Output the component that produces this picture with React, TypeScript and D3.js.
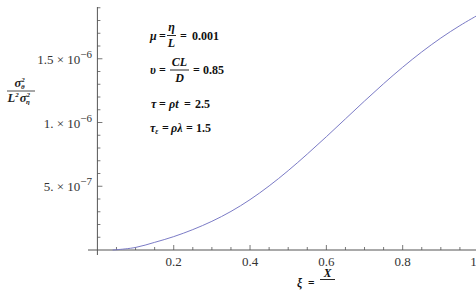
import React from "react";
import * as d3 from "d3";

const XI = [0.04, 0.05, 0.1, 0.15, 0.2, 0.25, 0.3, 0.35, 0.4, 0.45, 0.5, 0.55, 0.6, 0.65, 0.7, 0.75, 0.8, 0.85, 0.9, 0.95, 1.0];
const VARIANCE = [0, 0.2e-8, 2.0e-8, 6.0e-8, 1.05e-7, 1.6e-7, 2.25e-7, 3.025e-7, 3.95e-7, 5.025e-7, 6.225e-7, 7.525e-7, 8.885e-7, 1.0285e-6, 1.1685e-6, 1.3045e-6, 1.4335e-6, 1.5535e-6, 1.6625e-6, 1.76e-6, 1.8475e-6];

const X_TICKS = [0.2, 0.4, 0.6, 0.8, 1];
const X_TICK_LABELS = ["0.2", "0.4", "0.6", "0.8", "1"];
const Y_TICKS = [5e-7, 1e-6, 1.5e-6];
const Y_TICK_MANTISSA = ["5.", "1.", "1.5"];
const Y_TICK_EXP = ["\u22127", "\u22126", "\u22126"];

const W = 476;
const H = 292;
const FONT = "'Liberation Serif', 'DejaVu Serif', serif";

export default function App() {
  const x = d3.scaleLinear().domain([0, 1]).range([97.4, 479]);
  const y = d3.scaleLinear().domain([0, 1.9e-6]).range([250, 7.75]);
  const x0 = x(0);
  const y0 = y(0);

  const line = d3
    .line<number>()
    .x((_, i) => x(XI[i]))
    .y((d) => y(d))
    .curve(d3.curveCatmullRom.alpha(0.5));

  const xMinor = d3.range(1, 21).map((k) => k * 0.05);
  const yMinor = d3.range(1, 20).map((k) => k * 1e-7);
  const axisColor = "#555";
  const textColor = "#333";
  const ink = "#111";

  return (
    <svg
      width={W}
      height={H}
      style={{ position: "fixed", left: 0, top: 0, background: "#fff" }}
      fontFamily={FONT}
    >
      <rect x={0} y={0} width={W} height={H} fill="#fff" />
      {/* axes */}
      <line x1={88} x2={W} y1={y0} y2={y0} stroke={axisColor} strokeWidth={1} />
      <line x1={x0} x2={x0} y1={7} y2={255} stroke={axisColor} strokeWidth={1} />
      {/* x ticks */}
      {xMinor.map((v, i) => {
        const major = X_TICKS.some((t) => Math.abs(t - v) < 1e-9);
        return (
          <line
            key={"xm" + i}
            x1={x(v)}
            x2={x(v)}
            y1={y0}
            y2={y0 - (major ? 5 : 3)}
            stroke={axisColor}
            strokeWidth={0.8}
          />
        );
      })}
      {X_TICKS.map((t, i) => (
        <text
          key={"xl" + i}
          x={Math.min(x(t), 473.5)}
          y={265.5}
          fontSize={13}
          textAnchor="middle"
          fill={textColor}
        >
          {X_TICK_LABELS[i]}
        </text>
      ))}
      {/* y ticks */}
      {yMinor.map((v, i) => {
        const major = Y_TICKS.some((t) => Math.abs(t - v) < 1e-12);
        return (
          <line
            key={"ym" + i}
            x1={x0}
            x2={x0 + (major ? 5 : 3)}
            y1={y(v)}
            y2={y(v)}
            stroke={axisColor}
            strokeWidth={0.8}
          />
        );
      })}
      {Y_TICKS.map((t, i) => (
        <text key={"yl" + i} x={92} y={y(t) + 5} fontSize={13} textAnchor="end" fill={textColor}>
          {Y_TICK_MANTISSA[i] + " \u00d7 10"}
          <tspan dy={-6} fontSize={11}>
            {Y_TICK_EXP[i]}
          </tspan>
        </text>
      ))}
      {/* curve */}
      <path d={line(VARIANCE) || ""} fill="none" stroke="#7b7bc6" strokeWidth={1} />

      {/* y label fraction */}
      <g fontWeight="bold" fontStyle="italic" fill="#222">
        <text x={14.5} y={87} fontSize={12.5}>
          σ
          <tspan fontSize={7} dy={-5}>2</tspan>
          <tspan fontSize={7} dx={-3.8} dy={7}>θ</tspan>
        </text>
        <line x1={7} x2={35} y1={91} y2={91} stroke="#222" strokeWidth={0.8} />
        <text x={7.5} y={102} fontSize={12.5}>
          L
          <tspan fontSize={7} dy={-5}>2</tspan>
          <tspan dy={5} dx={1}>σ</tspan>
          <tspan fontSize={7} dy={-5}>2</tspan>
          <tspan fontSize={7} dx={-3.8} dy={7}>η</tspan>
        </text>
      </g>

      {/* annotations */}
      <g fontWeight="bold" fill={ink} fontSize={12}>
        {/* line 1 */}
        <text x={150} y={39.5} fontStyle="italic">μ</text>
        <text x={159} y={39.5}>=</text>
        <text x={171.5} y={31} textAnchor="middle" fontStyle="italic">η</text>
        <line x1={167} x2={176} y1={35.5} y2={35.5} stroke={ink} strokeWidth={0.9} />
        <text x={171.5} y={47} textAnchor="middle" fontStyle="italic">L</text>
        <text x={180} y={39.5}>=</text>
        <text x={192} y={39.5}>0.001</text>

        {/* line 2 */}
        <text x={150} y={74} fontStyle="italic">υ</text>
        <text x={159} y={74}>=</text>
        <text x={179.5} y={66} textAnchor="middle" fontStyle="italic">CL</text>
        <line x1={170} x2={189} y1={70} y2={70} stroke={ink} strokeWidth={0.9} />
        <text x={179.5} y={82} textAnchor="middle" fontStyle="italic">D</text>
        <text x={193} y={74}>=</text>
        <text x={203} y={74}>0.85</text>

        {/* line 3 */}
        <text x={151} y={108} fontStyle="italic">τ</text>
        <text x={159} y={108}>=</text>
        <text x={169} y={108} fontStyle="italic">ρt</text>
        <text x={184} y={108}>=</text>
        <text x={195} y={108}>2.5</text>

        {/* line 4 */}
        <text x={150} y={131.5} fontStyle="italic">
          τ<tspan fontSize={7.5} dy={2.5}>ε</tspan>
        </text>
        <text x={162} y={131.5}>=</text>
        <text x={171} y={131.5} fontStyle="italic">ρλ</text>
        <text x={186} y={131.5}>=</text>
        <text x={196} y={131.5}>1.5</text>
      </g>

      {/* x label */}
      <g fontWeight="bold" fill={ink} fontSize={11.5}>
        <text x={297} y={287} fontStyle="italic">ξ</text>
        <text x={308} y={287}>=</text>
        <text x={327.5} y={277} textAnchor="middle" fontStyle="italic">X</text>
        <line x1={320} x2={335} y1={279.5} y2={279.5} stroke={ink} strokeWidth={0.9} />
        <text x={327.5} y={301} textAnchor="middle" fontStyle="italic">L</text>
      </g>
    </svg>
  );
}
